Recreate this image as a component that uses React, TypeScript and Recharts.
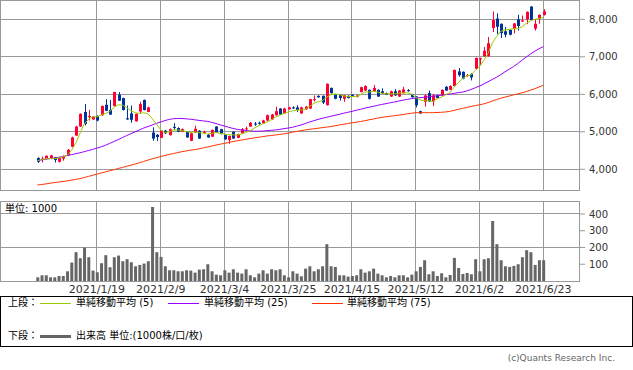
import React from 'react';
import { ComposedChart, Bar, Line, XAxis, YAxis, CartesianGrid } from 'recharts';

// daily prices, 2020/12/25 .. 2021/6/23 (index 0..119)
const opens = [
  4300, 4250, 4285, 4280, 4320, 4200, 4285, 4370, 4600, 4900,
  5140, 5530, 5390, 5330, 5420, 5440, 5720, 5580, 5690, 5990,
  5900, 5360, 5490, 5280, 5540, 5850, 5530, 4980, 4920, 4840,
  5030, 4910, 5130, 5100, 5000, 5000, 4760, 4980, 5030, 4980,
  4920, 4870, 5140, 5070, 4920, 4780, 5000, 4840, 4960, 5070,
  5140, 5220, 5240, 5230, 5300, 5330, 5440, 5620, 5490, 5600,
  5650, 5650, 5490, 5600, 5620, 5850, 5960, 5960, 5710, 6170,
  5990, 5990, 5880, 5960, 5990, 5940, 6060, 6100, 6120, 6080,
  6120, 6080, 6030, 5940, 6080, 5940, 6030, 6110, 5990, 5940,
  5550, 5800, 6030, 5810, 5970, 5970, 6200, 6120, 6220, 6610,
  6600, 6490, 6540, 6680, 6940, 7020, 7020, 7770, 8020, 7880,
  7680, 7720, 7750, 8000, 7940, 8000, 8340, 7750, 8020, 8120,
];
const closes = [
  4200, 4285, 4360, 4370, 4250, 4300, 4340, 4520, 4850, 5140,
  5480, 5210, 5420, 5400, 5300, 5690, 5560, 5460, 6060, 5830,
  5580, 5330, 5320, 5480, 5740, 5580, 5650, 4820, 4860, 5030,
  4960, 5070, 5110, 5000, 5070, 4850, 4960, 5080, 4820, 5000,
  4850, 5050, 4980, 4940, 4800, 4890, 4820, 4940, 5070, 5090,
  5240, 5200, 5220, 5300, 5440, 5460, 5550, 5460, 5620, 5650,
  5630, 5580, 5650, 5670, 5870, 5870, 5920, 5780, 6280, 6030,
  5880, 5900, 5970, 5900, 5940, 5970, 6190, 6220, 5880, 6170,
  5940, 6030, 5990, 6080, 5970, 6100, 6130, 6090, 5920, 5710,
  5490, 5970, 5810, 5970, 5900, 6120, 6100, 6220, 6650, 6510,
  6420, 6510, 6450, 6970, 6960, 7160, 7360, 7980, 7800, 7630,
  7590, 7590, 7890, 7820, 7970, 8200, 7980, 7880, 8120, 8210,
];
const highs = [
  4320, 4340, 4370, 4390, 4330, 4330, 4370, 4540, 4870, 5160,
  5490, 5740, 5580, 5420, 5440, 5700, 5870, 5850, 6070, 6060,
  5910, 5700, 5700, 5490, 5800, 5860, 5670, 5120, 4940, 5040,
  5050, 5090, 5230, 5120, 5090, 5010, 4970, 5160, 5040, 5030,
  4940, 5060, 5150, 5080, 4930, 4900, 5010, 4950, 5100, 5140,
  5260, 5260, 5270, 5320, 5460, 5480, 5670, 5630, 5640, 5670,
  5680, 5710, 5670, 5690, 5880, 5970, 5970, 5970, 6290, 6180,
  6000, 6000, 5990, 5970, 6000, 5990, 6200, 6240, 6130, 6250,
  6130, 6160, 6050, 6100, 6140, 6110, 6200, 6140, 6010, 5950,
  5560, 5990, 6100, 6010, 5990, 6130, 6220, 6240, 6660, 6700,
  6610, 6540, 6560, 6980, 6980, 7260, 7530, 8210, 8160, 7890,
  7800, 7730, 7900, 8120, 8100, 8210, 8350, 8000, 8130, 8270,
];
const lows = [
  4170, 4180, 4270, 4270, 4180, 4180, 4230, 4360, 4590, 4890,
  5130, 5170, 5300, 5320, 5280, 5430, 5550, 5450, 5680, 5820,
  5570, 5320, 5240, 5270, 5490, 5570, 5520, 4760, 4750, 4830,
  4940, 4900, 5050, 4990, 4990, 4840, 4750, 4970, 4810, 4950,
  4840, 4860, 4970, 4930, 4790, 4680, 4810, 4830, 4950, 5030,
  5130, 5160, 5190, 5210, 5290, 5320, 5430, 5450, 5480, 5590,
  5610, 5530, 5480, 5590, 5610, 5810, 5910, 5740, 5700, 6020,
  5870, 5830, 5800, 5890, 5930, 5920, 6050, 6090, 5860, 6070,
  5930, 6010, 5980, 5930, 5960, 5930, 6020, 6070, 5910, 5650,
  5480, 5670, 5800, 5690, 5890, 5960, 6090, 6110, 6210, 6470,
  6400, 6470, 6370, 6670, 6780, 7000, 7000, 7660, 7600, 7500,
  7520, 7570, 7620, 7700, 7930, 7870, 7970, 7700, 7880, 8100,
];
const ma5 = [
  4230, 4260, 4280, 4285, 4285, 4300, 4330, 4370, 4500, 4690,
  4960, 5210, 5330, 5400, 5400, 5450, 5490, 5540, 5650, 5720,
  5710, 5650, 5560, 5510, 5490, 5510, 5480, 5350, 5210, 5050,
  4980, 5000, 5050, 5050, 5030, 5010, 4980, 5000, 4980, 4960,
  4940, 4960, 4980, 4960, 4940, 4920, 4920, 4910, 4940, 4980,
  5030, 5100, 5160, 5210, 5260, 5320, 5390, 5440, 5490, 5530,
  5560, 5580, 5580, 5600, 5670, 5760, 5800, 5830, 5920, 5990,
  6010, 5990, 5960, 5940, 5940, 5940, 5990, 6060, 6060, 6080,
  6060, 6030, 6010, 6010, 6010, 6030, 6040, 6040, 6010, 5920,
  5850, 5830, 5830, 5810, 5880, 5920, 5990, 6040, 6190, 6310,
  6420, 6490, 6520, 6630, 6740, 6900, 7090, 7360, 7540, 7680,
  7720, 7730, 7750, 7750, 7800, 7890, 7960, 8000, 8020, 8050,
];
const ma25 = [
  4230, 4250, 4270, 4285, 4300, 4320, 4340, 4365, 4390, 4415,
  4440, 4470, 4500, 4530, 4565, 4600, 4640, 4690, 4740, 4790,
  4845, 4900, 4950, 5000, 5050, 5100, 5140, 5180, 5225, 5260,
  5300, 5330, 5350, 5355, 5355, 5345, 5335, 5320, 5305, 5290,
  5280, 5250, 5220, 5185, 5155, 5120, 5090, 5065, 5050, 5035,
  5025, 5015, 5015, 5020, 5030, 5040, 5050, 5065, 5085, 5100,
  5120, 5150, 5180, 5220, 5260, 5295, 5330, 5360, 5385, 5415,
  5440, 5465, 5495, 5520, 5545, 5575, 5600, 5630, 5655, 5680,
  5705, 5730, 5750, 5775, 5795, 5820, 5845, 5865, 5885, 5900,
  5910, 5920, 5935, 5950, 5960, 5975, 5990, 6005, 6025, 6045,
  6060, 6090, 6130, 6175, 6220, 6275, 6335, 6395, 6455, 6525,
  6600, 6670, 6740, 6820, 6910, 6995, 7075, 7150, 7215, 7270,
];
const ma75 = [
  3580, 3595, 3610, 3630, 3645, 3660, 3675, 3690, 3710, 3730,
  3750, 3780, 3810, 3840, 3870, 3900, 3930, 3960, 3990, 4020,
  4050, 4080, 4110, 4140, 4175, 4210, 4245, 4280, 4310, 4340,
  4370, 4395, 4420, 4445, 4470, 4490, 4510, 4525, 4545, 4570,
  4595, 4620, 4645, 4670, 4690, 4715, 4740, 4760, 4780, 4800,
  4820, 4835, 4855, 4870, 4890, 4900, 4915, 4930, 4945, 4965,
  4990, 5010, 5030, 5050, 5065, 5080, 5095, 5110, 5125, 5140,
  5160, 5180, 5200, 5220, 5240, 5255, 5275, 5295, 5320, 5340,
  5365, 5385, 5400, 5415, 5430, 5445, 5460, 5480, 5495, 5510,
  5510, 5510, 5510, 5510, 5515, 5520, 5530, 5545, 5570, 5600,
  5625, 5650, 5675, 5700, 5720, 5745, 5780, 5820, 5860, 5895,
  5925, 5955, 5985, 6010, 6040, 6075, 6110, 6150, 6195, 6240,
];
// volume, unit 1000
const volumes = [
  22, 34, 34, 22, 22, 30, 30, 58, 110, 172,
  136, 200, 142, 62, 52, 106, 154, 82, 142, 152,
  118, 130, 112, 88, 96, 104, 118, 442, 172, 144,
  88, 64, 64, 58, 58, 64, 62, 50, 68, 70,
  100, 58, 38, 34, 64, 50, 70, 50, 44, 70,
  34, 22, 44, 64, 44, 70, 64, 70, 34, 22,
  58, 44, 28, 74, 88, 58, 70, 88, 220, 88,
  84, 34, 34, 26, 30, 34, 70, 50, 58, 74,
  44, 34, 22, 30, 22, 34, 34, 22, 38, 58,
  84, 124, 40, 58, 30, 46, 22, 36, 138, 78,
  42, 48, 40, 130, 58, 130, 136, 358, 220, 124,
  88, 84, 90, 100, 142, 184, 172, 96, 124, 124,
];

const tickIndex = [14, 29, 44, 59, 74, 89, 104, 119];
const tickLabels = ['2021/1/19', '2021/2/9', '2021/3/4', '2021/3/25', '2021/4/15', '2021/5/12', '2021/6/2', '2021/6/23'];
const priceTicks = [4000, 5000, 6000, 7000, 8000];
const volumeTicks = [100, 200, 300, 400];

const FONT = "'DejaVu Sans', 'Noto Sans CJK JP', sans-serif";
const GRID = '#999999';
const X_DOMAIN = [-8.8, 127.4];

const data = opens.map((open, i) => ({
  i,
  open,
  close: closes[i],
  high: highs[i],
  low: lows[i],
  range: [lows[i], highs[i]],
  volume: volumes[i],
  ma5: ma5[i],
  ma25: ma25[i],
  ma75: ma75[i],
}));

const Candle = (props: any) => {
  const { x, y, width, height, payload } = props;
  if (!payload || height == null) return null;
  const { open, close, high, low } = payload;
  const cx = Math.round(x + width / 2) + 0.5;
  const toY = (v: number) => y + ((high - v) / (high - low)) * height;
  const color = close >= open ? '#ff0033' : '#003399';
  const top = toY(Math.max(open, close));
  const bot = toY(Math.min(open, close));
  return (
    <g>
      <line x1={cx} x2={cx} y1={y} y2={y + height} stroke={color} strokeWidth={1} />
      <rect x={cx - 1.5} y={top} width={3} height={Math.max(1, bot - top)} fill={color} />
    </g>
  );
};

const labelFor = (v: number) => tickLabels[tickIndex.indexOf(v)] ?? '';

const legendLine = (left: number, top: number, color: string, thick = 1) => (
  <div style={{ position: 'absolute', left, top: top - thick / 2, width: 31, height: thick, background: color }} />
);

const legendText = (left: number, top: number, text: string) => (
  <div style={{ position: 'absolute', left, top: top - 6, lineHeight: '12px', fontSize: 10, whiteSpace: 'nowrap', color: '#000' }}>{text}</div>
);

export default function App() {
  return (
    <div style={{ position: 'absolute', left: 0, top: 0, width: 633, height: 370, background: '#fff', fontFamily: FONT }}>
      {/* price panel */}
      <div style={{ position: 'absolute', left: 0, top: 0, width: 580, height: 191, border: `1px solid ${GRID}`, boxSizing: 'border-box' }} />
      <div style={{ position: 'absolute', left: 0, top: 0 }}>
        <ComposedChart width={633} height={191} data={data} margin={{ top: 0, right: 0, bottom: 0, left: 0 }}>
          <CartesianGrid stroke={GRID} shapeRendering="crispEdges" />
          <XAxis dataKey="i" type="number" domain={X_DOMAIN} ticks={tickIndex} allowDataOverflow hide />
          <YAxis
            orientation="right"
            width={54}
            type="number"
            domain={[3421, 8515]}
            ticks={priceTicks}
            allowDataOverflow
            axisLine={false}
            tickSize={6}
            tickMargin={4}
            tickLine={{ stroke: GRID }}
            tick={{ fontSize: 10, fill: '#333', fontFamily: FONT }}
            tickFormatter={(v: number) => v.toLocaleString('en-US')}
          />
          <Line type="linear" dataKey="ma75" stroke="#ff3300" strokeWidth={1} dot={false} activeDot={false} isAnimationActive={false} />
          <Line type="linear" dataKey="ma25" stroke="#9900ff" strokeWidth={1} dot={false} activeDot={false} isAnimationActive={false} />
          <Bar dataKey="range" barSize={3} shape={<Candle />} activeBar={false} isAnimationActive={false} />
          <Line type="linear" dataKey="ma5" stroke="#99cc00" strokeWidth={1} dot={false} activeDot={false} isAnimationActive={false} />
        </ComposedChart>
      </div>

      {/* volume panel */}
      <div style={{ position: 'absolute', left: 0, top: 201, width: 580, height: 81, border: `1px solid ${GRID}`, boxSizing: 'border-box' }} />
      <div style={{ position: 'absolute', left: 0, top: 201 }}>
        <ComposedChart width={633} height={98} data={data} margin={{ top: 0, right: 0, bottom: 0, left: 0 }}>
          <CartesianGrid stroke={GRID} shapeRendering="crispEdges" />
          <XAxis
            dataKey="i"
            type="number"
            domain={X_DOMAIN}
            ticks={tickIndex}
            allowDataOverflow
            height={18}
            axisLine={false}
            tickLine={false}
            tickSize={0}
            tickMargin={4}
            interval={0}
            tick={{ fontSize: 11, fill: '#333', fontFamily: FONT }}
            tickFormatter={labelFor}
          />
          <YAxis
            orientation="right"
            width={54}
            type="number"
            domain={[0, 477.6]}
            ticks={volumeTicks}
            allowDataOverflow
            axisLine={false}
            tickSize={6}
            tickMargin={4}
            tickLine={{ stroke: GRID }}
            tick={{ fontSize: 10, fill: '#333', fontFamily: FONT }}
          />
          <Bar dataKey="volume" barSize={3} fill="#666666" activeBar={false} isAnimationActive={false} />
        </ComposedChart>
      </div>
      <div style={{ position: 'absolute', left: 5, top: 203, lineHeight: '12px', fontSize: 10, color: '#000' }}>単位: 1000</div>

      {/* legend */}
      <div style={{ position: 'absolute', left: 0, top: 296, width: 633, height: 51, border: '1px solid #000', boxSizing: 'border-box' }} />
      {legendText(8, 303, '上段：')}
      {legendLine(40, 303, '#99cc00')}
      {legendText(76, 303, '単純移動平均 (5)')}
      {legendLine(168, 303, '#9900ff')}
      {legendText(204, 303, '単純移動平均 (25)')}
      {legendLine(312, 303, '#ff3300')}
      {legendText(347, 303, '単純移動平均 (75)')}
      {legendText(8, 336, '下段：')}
      {legendLine(40, 336, '#666666', 3)}
      {legendText(76, 336, '出来高 単位:(1000株/口/枚)')}

      <div style={{ position: 'absolute', right: 633 - 615, top: 352, lineHeight: '12px', fontSize: 9, color: '#666', whiteSpace: 'nowrap' }}>(c)Quants Research Inc.</div>
    </div>
  );
}
